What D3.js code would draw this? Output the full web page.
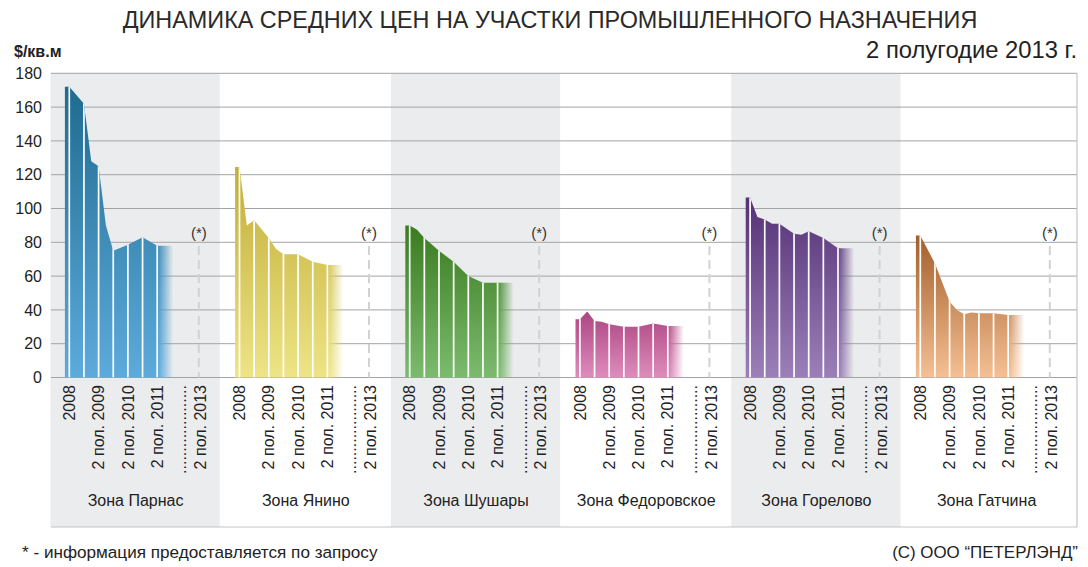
<!DOCTYPE html>
<html><head><meta charset="utf-8">
<script src="https://cdn.jsdelivr.net/npm/d3@7"></script>
<style>
body{margin:0;background:#fff}
svg{display:block}
text{font-family:"Liberation Sans",Arial,Helvetica,sans-serif}
</style></head>
<body><svg id="c" width="1088" height="567"></svg>
<script>
// ---- data ----
const zones = ["Зона Парнас","Зона Янино","Зона Шушары","Зона Федоровское","Зона Горелово","Зона Гатчина"];
// periods measured in half-years from 2008 (0 = 2008, 2 = 2 пол. 2009, ...)
const parnasPeriods = [0,1,1.5,2,2.5,3,4,5,6];
const parnasValues  = [172,162,128,125,90,75,78.5,83,78];
const yaninoPeriods = [0,0.5,1,2,2.5,3,4,5,6];
const yaninoValues  = [124.5,90,93,82.5,76,73,73,68.5,66.5];
const shusharyPeriods = [0,0.5,1,2,3,4,5,6];
const shusharyValues  = [90,87.5,82.5,75,68.5,60,56,56];
const fedorovskoePeriods = [0,0.5,1,1.5,2,3,4,5,6];
const fedorovskoeValues  = [34.5,39,33.5,33,31.5,30,30,32,30.5];
const gorelovoPeriods = [0,0.5,1,1.5,2,3,3.5,4,5,6];
const gorelovoValues  = [106.5,95,93.5,91,91,85,84.5,86.5,82.5,76.5];
const gatchinaPeriods = [0,1,2,2.5,3,3.5,4,5,6];
const gatchinaValues  = [84,67.5,45,40,37.5,38.5,38,38,37];

const yTickValues = [0,20,40,60,80,100,120,140,160,180];
const xTickLabels = ["2008","2 пол. 2009","2 пол. 2010","2 пол. 2011","....................","2 пол. 2013"];
const xTickPeriods = [0,2,4,6,7.6,8.95];
const separatorPeriods = [0,1,2,3,4,5,6];
const requestPeriod = 8.84;

const zoneColors = [
  ["#1f6b90","#5cabdc"],
  ["#c2ae38","#eee486"],
  ["#3a7b20","#7cbb6e"],
  ["#ad4581","#de8cbd"],
  ["#553176","#9c7fb8"],
  ["#a35f2b","#f5c094"]
];

const periodsList = [parnasPeriods,yaninoPeriods,shusharyPeriods,fedorovskoePeriods,gorelovoPeriods,gatchinaPeriods];
const valuesList  = [parnasValues,yaninoValues,shusharyValues,fedorovskoeValues,gorelovoValues,gatchinaValues];
const series = zones.map((z,i)=>({zone:z, t:periodsList[i], v:valuesList[i], c:zoneColors[i]}));

// ---- layout ----
const svg = d3.select("#c");
const defs = svg.append("defs");
const y = d3.scaleLinear().domain([0,180]).range([377.5,73.3]);
const panel = d3.scaleBand().domain(zones).range([50.5,1071.7]).padding(0);
const hx = d3.scaleLinear().domain([0,6]).range([18.8,106.7]);
const gridLeft = 51, gridRight = 1077, bottomY = 527;

// panel backgrounds
svg.append("g").selectAll("rect").data(zones.filter((z,i)=>i%2===0)).join("rect")
  .attr("x",d=>panel(d)).attr("y",y(180))
  .attr("width",panel.bandwidth()-1).attr("height",bottomY-y(180))
  .attr("fill","#ebeced");

// grid lines
svg.append("g").selectAll("line").data(yTickValues).join("line")
  .attr("x1",gridLeft).attr("x2",gridRight)
  .attr("y1",d=>y(d)).attr("y2",d=>y(d))
  .attr("stroke","#a3a3a3").attr("stroke-width",1);

// y axis labels
const yAxis = svg.append("g").attr("transform","translate(42,0)")
  .call(d3.axisLeft(y).tickValues(yTickValues).tickSize(0).tickPadding(0));
yAxis.select(".domain").remove();
yAxis.selectAll("text").attr("font-size",16).attr("fill","#222")
  .attr("font-family","'Liberation Sans',Arial,sans-serif");

svg.append("text").attr("x",14).attr("y",57).attr("font-size",16).attr("font-weight","bold")
  .attr("fill","#222").text("$/кв.м");

// panels
const area = d3.area().x(d=>hx(d[0])).y0(y(0)).y1(d=>y(d[1])).curve(d3.curveLinear);

series.forEach((s,i)=>{
  const g = svg.append("g").attr("transform",`translate(${panel(s.zone)},0)`);
  const pts = [[-0.3,s.v[0]], ...s.t.map((t,j)=>[t,s.v[j]]), [7.1,s.v[s.v.length-1]]];
  const d = area(pts);

  const grad = defs.append("linearGradient").attr("id","g"+i)
    .attr("x1",0).attr("y1",0).attr("x2",0).attr("y2",1);
  grad.append("stop").attr("offset",0).attr("stop-color",s.c[0]);
  grad.append("stop").attr("offset",1).attr("stop-color",s.c[1]);

  const mg = defs.append("linearGradient").attr("id","mg"+i)
    .attr("gradientUnits","userSpaceOnUse")
    .attr("x1",hx(6)+1).attr("x2",hx(7.1)).attr("y1",0).attr("y2",0);
  mg.append("stop").attr("offset",0).attr("stop-color","#fff").attr("stop-opacity",1);
  mg.append("stop").attr("offset",1).attr("stop-color","#fff").attr("stop-opacity",0);
  defs.append("mask").attr("id","m"+i).attr("maskUnits","userSpaceOnUse")
    .attr("x",0).attr("y",0).attr("width",panel.bandwidth()).attr("height",567)
    .append("rect").attr("x",0).attr("y",0).attr("width",panel.bandwidth()).attr("height",567)
    .attr("fill",`url(#mg${i})`);

  defs.append("clipPath").attr("id","cp"+i).append("path").attr("d",d);

  g.append("path").attr("d",d).attr("fill",`url(#g${i})`).attr("mask",`url(#m${i})`);

  g.append("g").attr("clip-path",`url(#cp${i})`).selectAll("line").data(separatorPeriods).join("line")
    .attr("x1",p=>hx(p)).attr("x2",p=>hx(p)).attr("y1",y(0)).attr("y2",y(180)-10)
    .attr("stroke","#fff").attr("stroke-width",1.7);

  g.append("line").attr("x1",hx(requestPeriod)).attr("x2",hx(requestPeriod))
    .attr("y1",246).attr("y2",y(0))
    .attr("stroke","#d2d2d2").attr("stroke-width",2).attr("stroke-dasharray","9,5");
  g.append("text").attr("x",hx(requestPeriod)).attr("y",237.5).attr("text-anchor","middle")
    .attr("font-size",15).attr("fill","#333").text("(*)");

  g.selectAll(".xl").data(xTickLabels).join("text").attr("class","xl")
    .attr("transform",(l,j)=>`translate(${hx(xTickPeriods[j])},385) rotate(-90)`)
    .attr("text-anchor","end").attr("dy","0.35em")
    .attr("font-size",16).attr("fill","#222").text(l=>l);

  g.append("text").attr("x",panel.bandwidth()/2).attr("y",506).attr("text-anchor","middle")
    .attr("font-size",16).attr("fill","#222").text(s.zone);
});

// frame lines
svg.append("line").attr("x1",gridLeft).attr("x2",gridRight).attr("y1",bottomY).attr("y2",bottomY)
  .attr("stroke","#c4c4c4").attr("stroke-width",1.2);
svg.append("line").attr("x1",gridRight).attr("x2",gridRight).attr("y1",y(180)).attr("y2",bottomY)
  .attr("stroke","#c4c4c4").attr("stroke-width",1.2);

// titles
function fitText(sel, targetW){
  const w = sel.node().getComputedTextLength();
  const fs = +sel.attr("font-size");
  sel.attr("font-size", fs*targetW/w);
}
const title = svg.append("text").attr("x",550).attr("y",28).attr("text-anchor","middle")
  .attr("font-size",24).attr("fill","#2a2a2a")
  .text("ДИНАМИКА СРЕДНИХ ЦЕН НА УЧАСТКИ ПРОМЫШЛЕННОГО НАЗНАЧЕНИЯ");
fitText(title, 855);
const sub = svg.append("text").attr("x",1077).attr("y",58).attr("text-anchor","end")
  .attr("font-size",24).attr("fill","#222").text("2 полугодие 2013 г.");
fitText(sub, 211);
const foot = svg.append("text").attr("x",22).attr("y",558)
  .attr("font-size",15).attr("fill","#222").text("* - информация предоставляется по запросу");
fitText(foot, 356);
const copy = svg.append("text").attr("x",1078).attr("y",558).attr("text-anchor","end")
  .attr("font-size",15).attr("fill","#222").text("(C) ООО \u201CПЕТЕРЛЭНД\u201D");
fitText(copy, 186);
</script>
</body></html>
